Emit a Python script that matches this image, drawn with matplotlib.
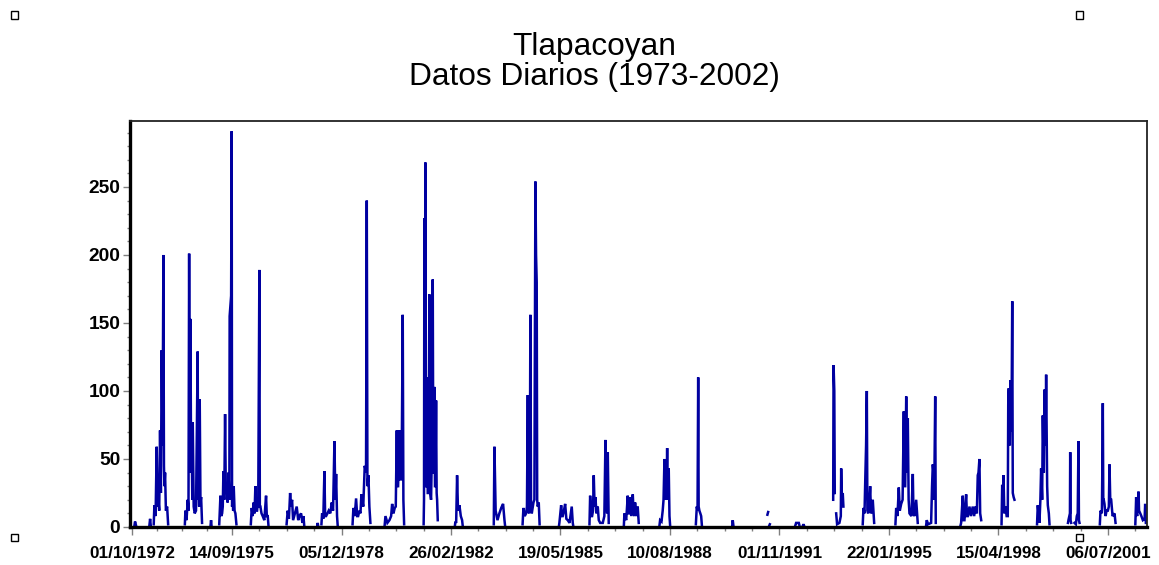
import numpy as np
import pandas as pd
import matplotlib
matplotlib.use('Agg')
import matplotlib.pyplot as plt
import matplotlib.dates as mdates
from matplotlib.patches import Rectangle

# Tlapacoyan: gasto diario por temporada de lluvias
# dias contados a partir del 01/10/1972, gasto en m3/s
inicio = pd.Timestamp('1972-10-01')

dias = [
    [25, 34, 45],
    [188, 196, 203],
    [235, 242, 255, 267, 276, 285, 294, 303, 312, 321, 330, 339, 345, 350, 357, 366, 379, 390],
    [570, 576, 588, 601, 609, 616, 623, 630, 637, 644, 650, 655, 665, 676, 690, 708, 713, 719, 724, 730, 738, 745, 755],
    [845, 852, 858],
    [940, 953, 962, 971, 978, 985, 994, 1003, 1011, 1020, 1030, 1040, 1049, 1052, 1068, 1074, 1078, 1085, 1090, 1096, 1105, 1114, 1125],
    [1280, 1290, 1300, 1311, 1320, 1329, 1338, 1347, 1360, 1372, 1377, 1383, 1395, 1408, 1425, 1444, 1452, 1462, 1470],
    [1665, 1677, 1690, 1703, 1712, 1724, 1735, 1774, 1790, 1803, 1821, 1835, 1846, 1855],
    [1994, 2000, 2006],
    [2040, 2047, 2060, 2072, 2080, 2090, 2105, 2118, 2135, 2151, 2165, 2180, 2190, 2198, 2208, 2215],
    [2375, 2384, 2398, 2413, 2425, 2435, 2449, 2460, 2470, 2490, 2506, 2520, 2528, 2535, 2546, 2556, 2567],
    [2720, 2729, 2750, 2772, 2790, 2801, 2815, 2829, 2840, 2851, 2858, 2865, 2872, 2879, 2890, 2897, 2905, 2915, 2922, 2930],
    [3140, 3144, 3148, 3153, 3159, 3165, 3170, 3177, 3184, 3191, 3196, 3202, 3210, 3220, 3230, 3238, 3244, 3249, 3256, 3262, 3267, 3274, 3280, 3285, 3292],
    [3475, 3482, 3490, 3500, 3510, 3525, 3540, 3554, 3562],
    [3895, 3902, 3915, 3935, 3955, 3975, 3995, 4010, 4018],
    [4205, 4214, 4228, 4243, 4252, 4261, 4268, 4275, 4282, 4289, 4296, 4304, 4313, 4322, 4332, 4343, 4350, 4357, 4362, 4368, 4379, 4388],
    [4595, 4601, 4620, 4630, 4637, 4650, 4663, 4676, 4691, 4710, 4734, 4745, 4752],
    [4925, 4932, 4945, 4953, 4963, 4971, 4980, 4989, 5000, 5014, 5025, 5040, 5068, 5085, 5097, 5102, 5108, 5115, 5122, 5132],
    [5295, 5301, 5320, 5337, 5345, 5355, 5362, 5375, 5391, 5400, 5406, 5416, 5430, 5444, 5455],
    [5678, 5685, 5700, 5713, 5722, 5732, 5740, 5750, 5756, 5761, 5766, 5771, 5778, 5786, 5793],
    [6070, 6080, 6088, 6095, 6100, 6108, 6118, 6127, 6135],
    [6460, 6467, 6474],
    [6840, 6848],
    [6860, 6866],
    [7140, 7149, 7165, 7178, 7185],
    [7222, 7228, 7234],
    [7548, 7552, 7560, 7565],
    [7580, 7590, 7615, 7630, 7634, 7640, 7644, 7651, 7658],
    [7866, 7874, 7885, 7895, 7902, 7910, 7916, 7924, 7935, 7946, 7955, 7963, 7974, 7989],
    [8218, 8226, 8240, 8254, 8265, 8280, 8295, 8308, 8315, 8323, 8334, 8343, 8351, 8360, 8369, 8390, 8405, 8412, 8423, 8441, 8458],
    [8548, 8555, 8570, 8602, 8612, 8620, 8628, 8635, 8646, 8652],
    [8918, 8925, 8943, 8952, 8961, 8979, 8988, 8997, 9015, 9030, 9050, 9065, 9079, 9094, 9104, 9112, 9122, 9130, 9141],
    [9360, 9367, 9374, 9381, 9390, 9402, 9415, 9427, 9432, 9438, 9449, 9456, 9467, 9475, 9481, 9490, 9499],
    [9742, 9750, 9768, 9778, 9786, 9797, 9804, 9815, 9822, 9833, 9840, 9851, 9858, 9869, 9876],
    [10075, 10080, 10096, 10099, 10103, 10109],
    [10145, 10160, 10170, 10180, 10188, 10193, 10199],
    [10418, 10425, 10440, 10447, 10450, 10455, 10460, 10468, 10480, 10490, 10504, 10515, 10522, 10530, 10540, 10555, 10576, 10587],
    [10800, 10809, 10815, 10820, 10834, 10840, 10853, 10865, 10881, 10900, 10906, 10913],
]

gasto = [
    [0, 4, 1],
    [1, 6, 1],
    [2, 16, 8, 59, 15, 20, 12, 71, 25, 130, 60, 200, 45, 30, 40, 12, 15, 2],
    [2, 12, 5, 20, 12, 201, 40, 153, 45, 60, 20, 77, 15, 10, 12, 129, 20, 30, 15, 94, 18, 22, 3],
    [0, 5, 0],
    [2, 23, 8, 10, 15, 41, 20, 83, 25, 31, 18, 40, 20, 155, 170, 291, 15, 20, 12, 30, 12, 10, 2],
    [2, 14, 8, 18, 10, 30, 12, 12, 20, 189, 15, 15, 10, 8, 5, 23, 8, 8, 1],
    [2, 12, 6, 25, 15, 20, 5, 15, 5, 8, 10, 3, 8, 1],
    [0, 3, 0],
    [2, 10, 6, 41, 8, 8, 10, 12, 10, 18, 12, 63, 20, 39, 8, 1],
    [2, 14, 8, 21, 8, 8, 12, 10, 24, 15, 45, 40, 240, 30, 38, 15, 3],
    [1, 8, 3, 5, 8, 17, 10, 14, 15, 71, 30, 30, 50, 71, 35, 35, 60, 156, 20, 2],
    [2, 20, 227, 60, 268, 30, 30, 110, 25, 25, 90, 171, 25, 20, 60, 182, 40, 40, 103, 30, 30, 93, 25, 20, 5],
    [0, 4, 3, 38, 12, 16, 8, 5, 0],
    [2, 59, 12, 5, 10, 14, 17, 5, 0],
    [2, 14, 8, 10, 15, 97, 12, 10, 20, 156, 15, 10, 14, 18, 20, 254, 200, 180, 20, 15, 18, 2],
    [0, 3, 16, 8, 8, 12, 17, 6, 5, 3, 15, 3, 0],
    [2, 23, 8, 8, 12, 38, 15, 22, 10, 15, 5, 3, 3, 8, 64, 15, 20, 10, 55, 3],
    [1, 10, 5, 23, 10, 10, 22, 8, 24, 10, 8, 18, 8, 15, 3],
    [1, 5, 4, 12, 20, 50, 25, 20, 30, 58, 20, 25, 43, 8, 1],
    [2, 15, 12, 110, 15, 12, 10, 8, 1],
    [0, 5, 1],
    [9, 11],
    [1, 2],
    [1, 3, 3, 3, 1],
    [1, 2, 1],
    [20, 119, 100, 25],
    [10, 2, 3, 8, 43, 20, 20, 25, 15],
    [2, 14, 10, 40, 60, 100, 12, 10, 15, 30, 10, 12, 20, 3],
    [2, 14, 8, 29, 12, 17, 20, 85, 30, 30, 96, 40, 80, 20, 10, 8, 39, 10, 8, 20, 3],
    [1, 5, 2, 3, 30, 46, 40, 20, 96, 3],
    [1, 3, 23, 5, 5, 24, 8, 8, 15, 8, 15, 8, 15, 10, 38, 40, 50, 10, 5],
    [2, 31, 15, 38, 10, 15, 8, 8, 90, 102, 60, 108, 70, 166, 25, 22, 20],
    [2, 16, 3, 20, 43, 20, 82, 40, 101, 60, 112, 30, 16, 10, 2],
    [3, 5, 10, 55, 5, 3],
    [3, 2, 8, 10, 63, 5, 3],
    [2, 12, 10, 60, 91, 20, 20, 17, 8, 12, 12, 15, 46, 20, 20, 8, 10, 3],
    [2, 22, 10, 8, 26, 12, 10, 8, 5, 6, 17, 3],
]

etiquetas_fecha = ['01/10/1972', '14/09/1975', '05/12/1978', '26/02/1982', '19/05/1985',
                   '10/08/1988', '01/11/1991', '22/01/1995', '15/04/1998', '06/07/2001']

plt.rcParams['font.family'] = ['Liberation Sans', 'DejaVu Sans']

fig = plt.figure(figsize=(11.59, 5.65), dpi=100)
ax = fig.add_axes([0.1122, 0.0673, 0.8774, 0.7185])

# temporadas separadas por huecos (sin datos)
for d, q in zip(dias, gasto):
    fechas = inicio + pd.to_timedelta(d, unit='D')
    ax.plot(fechas, q, color='#0000a0', lw=1.8, solid_joinstyle='miter')

ax.set_xlim(inicio - pd.Timedelta(days=20), inicio + pd.Timedelta(days=10925))
ax.set_ylim(0, 298.5)

# ticks principales de fecha y 3 secundarios entre cada par
mayores = mdates.date2num(pd.to_datetime(etiquetas_fecha, format='%d/%m/%Y'))
menores = []
for a, b in zip(mayores[:-1], mayores[1:]):
    menores += list(np.linspace(a, b, 5)[1:-1])
paso = (mayores[-1] - mayores[-2]) / 4
menores.append(mayores[-1] + paso)
ax.set_xticks(mayores)
ax.set_xticklabels(etiquetas_fecha)
ax.set_xticks(menores, minor=True)

ax.set_yticks(np.arange(0, 251, 50))
ax.set_yticks(np.arange(0, 291, 10), minor=True)

ax.tick_params(axis='x', which='major', length=6, width=1, color='#808080', pad=8,
               labelsize=12.3)
ax.tick_params(axis='x', which='minor', length=3, width=1, color='#808080')
ax.tick_params(axis='y', which='major', length=5, width=1, color='#808080', pad=2,
               labelsize=13.8)
ax.tick_params(axis='y', which='minor', length=2.5, width=1, color='#808080')
for lab in ax.get_xticklabels() + ax.get_yticklabels():
    lab.set_fontweight('bold')

ax.spines['left'].set_linewidth(2.4)
ax.spines['bottom'].set_linewidth(2.4)
ax.spines['top'].set_linewidth(1.3)
ax.spines['right'].set_linewidth(1.3)
ax.spines['top'].set_color('#222222')
ax.spines['right'].set_color('#222222')

fig.text(0.5125, 0.9027, 'Tlapacoyan', ha='center', va='baseline', fontsize=22.8)
fig.text(0.5125, 0.8496, 'Datos Diarios (1973-2002)', ha='center', va='baseline', fontsize=22.8)

# cuadritos de seleccion en las esquinas
W, H = 1159.0, 565.0
for cx, cy in [(14, 15), (1079, 15), (14, 537), (1079, 537)]:
    fig.add_artist(Rectangle(((cx - 3.5) / W, 1 - (cy + 3.5) / H), 7 / W, 7 / H,
                             transform=fig.transFigure, facecolor='white',
                             edgecolor='black', lw=1.0, zorder=10))

fig.savefig('out.png', dpi=100)
